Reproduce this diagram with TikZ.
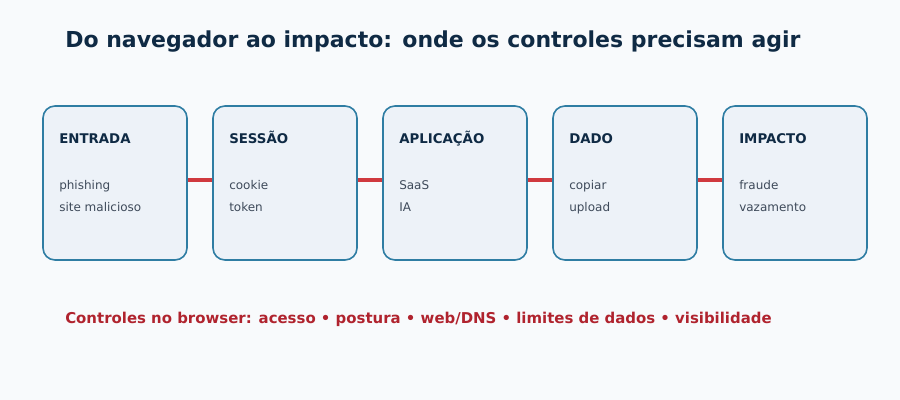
\documentclass[tikz,border=0pt]{standalone}
\usepackage{fontspec}
\setmainfont{DejaVu Sans}
\definecolor{bgc}{HTML}{F8FAFC}
\definecolor{boxfill}{HTML}{EDF2F8}
\definecolor{boxline}{HTML}{2F7DA3}
\definecolor{titlec}{HTML}{0F2A44}
\definecolor{linkc}{HTML}{D0393E}
\definecolor{notec}{HTML}{B0232E}
\definecolor{itemc}{HTML}{3E4A5A}
\tikzset{
  stage/.style={draw=boxline,fill=boxfill,line width=1.2pt,rounded corners=9pt,
    minimum width=108pt,minimum height=115.5pt,inner sep=0pt},
  head/.style={anchor=base west,inner sep=0pt,font=\bfseries\fontsize{10}{12}\selectfont,text=titlec},
  item/.style={anchor=base west,inner sep=0pt,font=\fontsize{9}{11}\selectfont,text=itemc},
  link/.style={draw=linkc,line width=3pt},
}
\begin{document}
\begin{tikzpicture}[x=0.75pt,y=-0.75pt]
\fill[bgc] (0,0) rectangle (900,400);
\useasboundingbox (0,0) rectangle (900,400);
\node[anchor=west,inner sep=0pt,font=\bfseries\fontsize{16.5}{20}\selectfont,text=titlec] (title) at (65,42) {Do navegador ao impacto: onde os controles precisam agir};
\foreach \i/\x/\h/\a/\b in {1/43/ENTRADA/phishing/site malicioso,2/213/SESSÃO/cookie/token,3/383/APLICAÇÃO/SaaS/IA,4/553/DADO/copiar/upload,5/723/IMPACTO/fraude/vazamento}{
  \node[stage] (s\i) at (\x+72,183) {};
  \node[head] (h\i) at (\x+16,143) {\h};
  \node[item] (a\i) at (\x+16,189) {\a};
  \node[item] (b\i) at (\x+16,211) {\b};
}
\foreach \i/\j in {1/2,2/3,3/4,4/5}
  \draw[link] (s\i.east) ++(0,-2.7) coordinate (p\i) -- (p\i -| s\j.west);
\node[anchor=west,inner sep=0pt,font=\bfseries\fontsize{11.2}{13}\selectfont,text=notec] (note) at (65,319) {Controles no browser: acesso • postura • web/DNS • limites de dados • visibilidade};
\end{tikzpicture}
\end{document}
